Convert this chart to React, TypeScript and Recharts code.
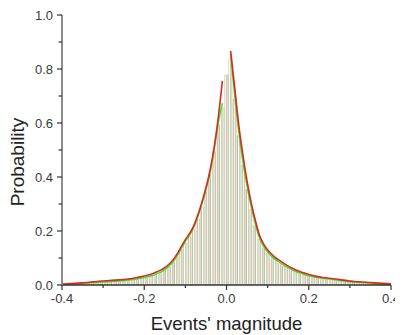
import React from "react"
import { Bar, ComposedChart, Line, XAxis, YAxis } from "recharts"

// histogram bins (centres) and heights
const binX = [
  -0.39, -0.38, -0.37, -0.36, -0.35, -0.34, -0.33, -0.32, -0.31, -0.3,
  -0.29, -0.28, -0.27, -0.26, -0.25, -0.24, -0.23, -0.22, -0.21, -0.2,
  -0.19, -0.18, -0.17, -0.16, -0.15, -0.14, -0.13, -0.12, -0.11, -0.1,
  -0.09, -0.08, -0.07, -0.06, -0.05, -0.04, -0.03, -0.02, -0.01, 0,
  0.01, 0.02, 0.03, 0.04, 0.05, 0.06, 0.07, 0.08, 0.09, 0.1,
  0.11, 0.12, 0.13, 0.14, 0.15, 0.16, 0.17, 0.18, 0.19, 0.2,
  0.21, 0.22, 0.23, 0.24, 0.25, 0.26, 0.27, 0.28, 0.29, 0.3,
  0.31, 0.32, 0.33, 0.34, 0.35, 0.36, 0.37, 0.38, 0.39,
]
const binVals = [
  0.002, 0.003, 0.004, 0.005, 0.006, 0.007, 0.008, 0.009, 0.011, 0.012,
  0.013, 0.014, 0.015, 0.016, 0.017, 0.019, 0.021, 0.023, 0.026, 0.029,
  0.033, 0.037, 0.042, 0.049, 0.057, 0.069, 0.085, 0.106, 0.132, 0.158,
  0.18, 0.207, 0.246, 0.292, 0.345, 0.41, 0.495, 0.595, 0.66, 0.78,
  0.84, 0.69, 0.555, 0.445, 0.355, 0.282, 0.222, 0.17, 0.138, 0.118,
  0.104, 0.091, 0.081, 0.072, 0.063, 0.055, 0.048, 0.043, 0.038, 0.034,
  0.03, 0.027, 0.025, 0.023, 0.021, 0.019, 0.017, 0.015, 0.014, 0.012,
  0.01, 0.009, 0.008, 0.007, 0.006, 0.005, 0.004, 0.004, 0.003,
]

// fitted curves (two branches, broken at the centre)
const curveX = [
  -0.4, -0.39, -0.38, -0.37, -0.36, -0.35, -0.34, -0.33, -0.32, -0.31,
  -0.3, -0.29, -0.28, -0.27, -0.26, -0.25, -0.24, -0.23, -0.22, -0.21,
  -0.2, -0.19, -0.18, -0.17, -0.16, -0.15, -0.14, -0.13, -0.12, -0.11,
  -0.1, -0.09, -0.08, -0.07, -0.06, -0.05, -0.04, -0.03, -0.02, -0.01,
  0.01, 0.02, 0.03, 0.04, 0.05, 0.06, 0.07, 0.08, 0.09,
  0.1, 0.11, 0.12, 0.13, 0.14, 0.15, 0.16, 0.17, 0.18, 0.19,
  0.2, 0.21, 0.22, 0.23, 0.24, 0.25, 0.26, 0.27, 0.28, 0.29,
  0.3, 0.31, 0.32, 0.33, 0.34, 0.35, 0.36, 0.37, 0.38, 0.39, 0.4,
]
const redVals = [
  0.003, 0.004, 0.005, 0.006, 0.007, 0.008, 0.009, 0.011, 0.012, 0.014,
  0.015, 0.016, 0.017, 0.018, 0.019, 0.02, 0.022, 0.024, 0.027, 0.03,
  0.033, 0.037, 0.042, 0.048, 0.055, 0.064, 0.077, 0.093, 0.115, 0.142,
  0.168, 0.19, 0.218, 0.258, 0.305, 0.36, 0.425, 0.51, 0.62, 0.756,
  0.867, 0.73, 0.59, 0.48, 0.385, 0.305, 0.24, 0.185, 0.152,
  0.13, 0.114, 0.1, 0.09, 0.08, 0.07, 0.062, 0.055, 0.049, 0.044,
  0.039, 0.035, 0.032, 0.029, 0.027, 0.025, 0.023, 0.021, 0.019, 0.017,
  0.015, 0.013, 0.012, 0.011, 0.01, 0.009, 0.008, 0.007, 0.006, 0.005, 0.004,
]
const greenVals = [
  0.001, 0.002, 0.003, 0.004, 0.005, 0.006, 0.007, 0.008, 0.009, 0.01,
  0.011, 0.012, 0.013, 0.014, 0.015, 0.016, 0.018, 0.02, 0.022, 0.025,
  0.028, 0.031, 0.035, 0.041, 0.048, 0.057, 0.07, 0.086, 0.108, 0.135,
  0.162, 0.184, 0.212, 0.252, 0.3, 0.352, 0.415, 0.5, 0.6, 0.674,
  0.855, 0.7, 0.565, 0.455, 0.365, 0.29, 0.228, 0.175, 0.143,
  0.122, 0.106, 0.093, 0.083, 0.073, 0.064, 0.056, 0.049, 0.044, 0.039,
  0.034, 0.031, 0.028, 0.026, 0.024, 0.022, 0.02, 0.018, 0.016, 0.014,
  0.012, 0.011, 0.01, 0.009, 0.008, 0.007, 0.006, 0.005, 0.004, 0.003, 0.002,
]

const xTicks = [-0.4, -0.3, -0.2, -0.1, 0, 0.1, 0.2, 0.3, 0.4]
const yTicks = [0, 0.1, 0.2, 0.3, 0.4, 0.5, 0.6, 0.7, 0.8, 0.9, 1]

type Row = { x: number; bar?: number; red?: number; green?: number }

const byX = new Map<string, Row>()
const rowAt = (x: number) => {
  const k = x.toFixed(3)
  if (!byX.has(k)) byX.set(k, { x })
  return byX.get(k)!
}
binX.forEach((x, i) => (rowAt(x).bar = binVals[i]))
curveX.forEach((x, i) => {
  const r = rowAt(x)
  r.red = redVals[i]
  r.green = greenVals[i]
})
const data = Array.from(byX.values()).sort((a, b) => a.x - b.x)

const isMajor = (v: number) => Math.round(v * 10) % 2 === 0
const font = "'Liberation Sans', Arial, sans-serif"

const XTick = (props: any) => {
  const { x, y, payload } = props
  const v = payload.value
  const major = isMajor(v)
  return (
    <g>
      <line x1={x} x2={x} y1={y} y2={y + (major ? 5 : 3)} stroke="#333" strokeWidth={1.2} />
      {major && (
        <text x={x} y={y + 17.7} textAnchor="middle" fontSize={13} fill="#3a3a3a" fontFamily={font}>
          {v.toFixed(1)}
        </text>
      )}
    </g>
  )
}

const YTick = (props: any) => {
  const { x, y, payload } = props
  const v = payload.value
  const major = isMajor(v)
  return (
    <g>
      <line x1={x} x2={x - (major ? 5 : 3.5)} y1={y} y2={y} stroke="#333" strokeWidth={1.2} />
      {major && (
        <text x={x - 9} y={y + 4.6} textAnchor="end" fontSize={13} fill="#3a3a3a" fontFamily={font}>
          {v.toFixed(1)}
        </text>
      )}
    </g>
  )
}

export default function App() {
  return (
    <ComposedChart
      width={395}
      height={327}
      data={data}
      margin={{ top: 7, right: 12, left: 4, bottom: 0 }}
    >
      <defs>
        <pattern id="stripes" patternUnits="userSpaceOnUse" width={9} height={10}>
          <rect x={0} y={0} width={1} height={10} fill="#c6cab4" />
          <rect x={1} y={0} width={1} height={10} fill="#f4f4ec" />
          <rect x={2} y={0} width={1} height={10} fill="#e4bfb8" />
          <rect x={3} y={0} width={1} height={10} fill="#cfe4c2" />
          <rect x={4} y={0} width={1} height={10} fill="#bcc1ab" />
          <rect x={5} y={0} width={1} height={10} fill="#fbfbf8" />
          <rect x={6} y={0} width={1} height={10} fill="#d9cdbf" />
          <rect x={7} y={0} width={1} height={10} fill="#c9e6bc" />
          <rect x={8} y={0} width={1} height={10} fill="#eddcd6" />
        </pattern>
      </defs>
      <XAxis
        dataKey="x"
        type="number"
        domain={[-0.4, 0.4]}
        ticks={xTicks}
        interval={0}
        height={50}
        tickSize={0}
        tickMargin={0}
        tickLine={false}
        tick={XTick}
        axisLine={{ stroke: "#333", strokeWidth: 1.5 }}
        label={{
          value: "Events' magnitude",
          position: "insideBottom",
          offset: 5,
          style: { fontSize: 18.5, fill: "#222", fontFamily: font },
        }}
      />
      <YAxis
        type="number"
        domain={[0, 1]}
        ticks={yTicks}
        interval={0}
        width={50}
        tickSize={0}
        tickMargin={0}
        tickLine={false}
        tick={YTick}
        axisLine={{ stroke: "#8c8c8c", strokeWidth: 2 }}
        label={{
          content: () => (
            <text
              x={16}
              y={154}
              transform="rotate(-90, 16, 154)"
              textAnchor="middle"
              fontSize={19}
              fill="#222"
              fontFamily={font}
            >
              Probability
            </text>
          ),
        }}
      />
      <Bar dataKey="bar" fill="url(#stripes)" barSize={4.1} isAnimationActive={false} />
      <Line
        dataKey="green"
        stroke="#3ee03a"
        strokeWidth={1.5}
        dot={false}
        type="monotone"
        connectNulls={false}
        isAnimationActive={false}
      />
      <Line
        dataKey="red"
        stroke="#dc2a1e"
        strokeWidth={1.6}
        dot={false}
        type="monotone"
        connectNulls={false}
        isAnimationActive={false}
      />
    </ComposedChart>
  )
}
